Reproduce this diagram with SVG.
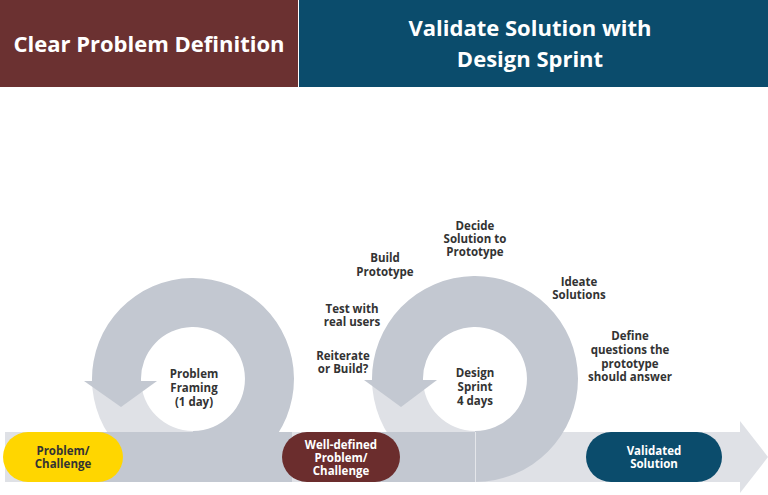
<svg xmlns="http://www.w3.org/2000/svg" width="768" height="495" viewBox="0 0 768 495">
<style>
.hd{font-family:"Open Sans","Liberation Sans",sans-serif;font-weight:700;font-size:22px;fill:#ffffff;text-anchor:middle}
.lb{font-family:"Open Sans","Liberation Sans",sans-serif;font-weight:700;font-size:11.5px;fill:#333333;text-anchor:middle}
.pw{fill:#ffffff}
.dark{fill:#c3c8d1}
.light{fill:#dfe1e6}
</style>
<rect x="0" y="0" width="768" height="495" fill="#ffffff"/>
<g id="header-left">
<rect x="0" y="0" width="298" height="87" fill="#6b3131"/>
<text class="hd" x="149" y="52">Clear Problem Definition</text>
</g>
<g id="header-right">
<rect x="299" y="0" width="469" height="87" fill="#0b4c6c"/>
<text class="hd" x="530" y="36">Validate Solution with</text>
<text class="hd" x="530" y="67">Design Sprint</text>
</g>
<g id="connectors">
<rect class="light" x="5" y="432" width="737" height="50"/>
<polygon class="light" points="740,421 768,457 740,493"/>
<path class="light" d="M92,379 A101,101 0 0 0 193,480 L193,431 A52,52 0 0 1 141,379 Z"/>
<path class="light" d="M372,379 A103,103 0 0 0 475,482 L475,431 A52,52 0 0 1 423,379 Z"/>
<path class="dark" d="M92,381 A101,101 0 1 1 193,480 L193,431 A52,52 0 1 0 141,381 Z"/>
<path class="dark" d="M372,381 A103,103 0 1 1 475,482 L475,431 A52,52 0 1 0 423,381 Z"/>
<rect class="dark" x="60" y="432" width="232" height="50"/>
<rect class="dark" x="340" y="432" width="135" height="50"/>
<line x1="475.5" y1="432" x2="475.5" y2="482" stroke="#e4e6ea" stroke-width="1"/>
<polygon class="dark" points="84,381 157,381 121,407"/>
<polygon class="dark" points="364,380 437,380 401,407"/>
</g>
<g id="problem-framing">
<text class="lb" x="194" y="378">Problem</text>
<text class="lb" x="194" y="392">Framing</text>
<text class="lb" x="194" y="406">(1 day)</text>
</g>
<g id="design-sprint">
<text class="lb" x="475" y="377">Design</text>
<text class="lb" x="475" y="391">Sprint</text>
<text class="lb" x="475" y="405">4 days</text>
</g>
<g id="step-decide">
<text class="lb" x="475" y="230">Decide</text>
<text class="lb" x="475" y="243">Solution to</text>
<text class="lb" x="475" y="256">Prototype</text>
</g>
<g id="step-build">
<text class="lb" x="385" y="262">Build</text>
<text class="lb" x="385" y="276">Prototype</text>
</g>
<g id="step-test">
<text class="lb" x="352" y="313">Test with</text>
<text class="lb" x="352" y="326">real users</text>
</g>
<g id="step-reiterate">
<text class="lb" x="343" y="360">Reiterate</text>
<text class="lb" x="343" y="373">or Build?</text>
</g>
<g id="step-ideate">
<text class="lb" x="579" y="286">Ideate</text>
<text class="lb" x="579" y="299">Solutions</text>
</g>
<g id="step-define">
<text class="lb" x="630" y="340">Define</text>
<text class="lb" x="630" y="354">questions the</text>
<text class="lb" x="630" y="368">prototype</text>
<text class="lb" x="630" y="381">should answer</text>
</g>
<g id="problem-challenge">
<rect x="3" y="432" width="120" height="50" rx="25" fill="#ffd600"/>
<text class="lb" x="63" y="455">Problem/</text>
<text class="lb" x="63" y="468">Challenge</text>
</g>
<g id="well-defined">
<rect x="282" y="432" width="118" height="50" rx="25" fill="#6b2d2d"/>
<text class="lb pw" x="341" y="449">Well-defined</text>
<text class="lb pw" x="341" y="462">Problem/</text>
<text class="lb pw" x="341" y="475">Challenge</text>
</g>
<g id="validated-solution">
<rect x="586" y="432" width="136" height="50" rx="25" fill="#0b4c6c"/>
<text class="lb pw" x="654" y="455">Validated</text>
<text class="lb pw" x="654" y="468">Solution</text>
</g>
</svg>
